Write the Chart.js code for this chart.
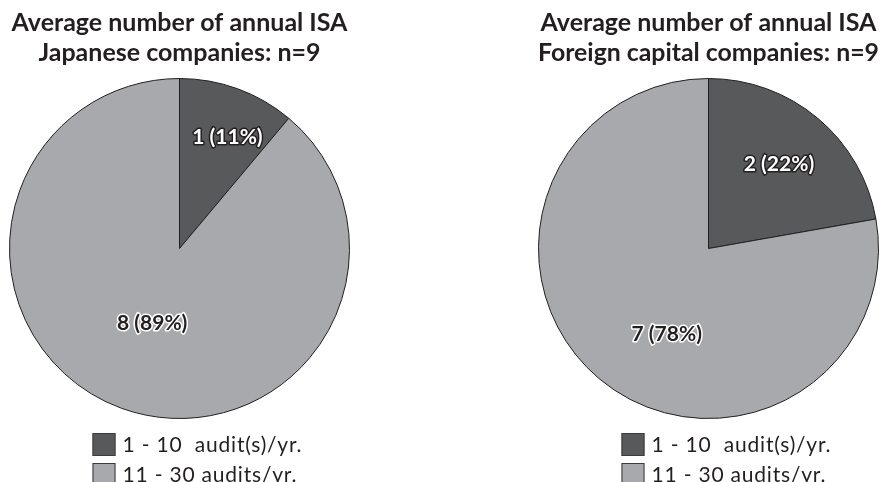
<!DOCTYPE html>
<html>
<head>
<meta charset="utf-8">
<script src="https://cdn.jsdelivr.net/npm/chart.js@4.4.1/dist/chart.umd.min.js"></script>
<style>
  body { margin: 0; background: #fff; width: 885px; height: 482px; overflow: hidden; position: relative; }
  canvas { position: absolute; top: 0; }
</style>
</head>
<body>
<canvas id="japanese" width="360" height="482" style="left:0"></canvas>
<canvas id="foreign" width="355" height="482" style="left:530px"></canvas>
<script>
// Data
var categories = ['1 - 10  audit(s)/yr.', '11 - 30 audits/yr.'];
var japaneseCounts = [1, 8];
var foreignCounts = [2, 7];
var japaneseTitle = ['Average number of annual ISA', 'Japanese companies: n=9'];
var foreignTitle = ['Average number of annual ISA', 'Foreign capital companies: n=9'];

var sliceColors = ['#58595b', '#a7a9ac'];
var inkColor = '#231f20';

// Count and percentage label on each slice
var sliceLabels = {
    id: 'sliceLabels',
    afterDatasetsDraw: function(chart, args, opts) {
        var ctx = chart.ctx;
        var data = chart.data.datasets[0].data;
        var total = data.reduce(function(a, b) { return a + b; }, 0);
        ctx.save();
        ctx.font = 'bold 21px Lato';
        ctx.textAlign = 'center';
        ctx.textBaseline = 'middle';
        ctx.lineJoin = 'round';
        chart.getDatasetMeta(0).data.forEach(function(arc, i) {
            var p = arc.getProps(['x', 'y', 'startAngle', 'endAngle', 'outerRadius'], true);
            var angle = (p.startAngle + p.endAngle) / 2 + opts.angleShift[i] * Math.PI / 180;
            var r = p.outerRadius * opts.radius[i];
            var x = p.x + Math.cos(angle) * r;
            var y = p.y + Math.sin(angle) * r;
            var text = data[i] + ' (' + Math.round(data[i] / total * 100) + '%)';
            ctx.lineWidth = 3;
            ctx.strokeStyle = opts.outline[i];
            ctx.strokeText(text, x, y);
            ctx.fillStyle = opts.fill[i];
            ctx.fillText(text, x, y);
        });
        ctx.restore();
    }
};

// Legend stacked under the pie
var stackedLegend = {
    id: 'stackedLegend',
    afterDraw: function(chart) {
        var ctx = chart.ctx;
        var cx = chart.getDatasetMeta(0).data[0].x;
        var top = chart.chartArea.bottom + 14;
        ctx.save();
        ctx.font = '21px Lato';
        ctx.letterSpacing = '0.8px';
        ctx.textBaseline = 'middle';
        chart.data.labels.forEach(function(label, i) {
            var x = cx - 87;
            var y = top + i * 30;
            ctx.fillStyle = chart.data.datasets[0].backgroundColor[i];
            ctx.fillRect(x, y, 23, 23);
            ctx.strokeStyle = '#3c3c3c';
            ctx.lineWidth = 1;
            ctx.strokeRect(x + 0.5, y + 0.5, 22, 22);
            ctx.fillStyle = inkColor;
            ctx.fillText(label, x + 30, y + 12);
        });
        ctx.restore();
    }
};

function makePie(id, counts, title, padding, labelOpts) {
    return new Chart(document.getElementById(id), {
        type: 'pie',
        data: {
            labels: categories,
            datasets: [{
                data: counts,
                backgroundColor: sliceColors,
                borderColor: inkColor,
                borderWidth: 1,
                hoverOffset: 0,
                offset: 0
            }]
        },
        options: {
            responsive: false,
            animation: false,
            events: [],
            layout: { padding: padding },
            plugins: {
                legend: { display: false },
                tooltip: { enabled: false },
                title: {
                    display: true,
                    text: title,
                    color: inkColor,
                    font: { family: 'Lato', size: 25, weight: 'bold', lineHeight: 1.2 },
                    padding: { top: 8, bottom: 10 }
                },
                sliceLabels: labelOpts
            }
        },
        plugins: [sliceLabels, stackedLegend]
    });
}

makePie('japanese', japaneseCounts, japaneseTitle,
    { left: 9, right: 10, bottom: 63 },
    { radius: [0.71, 0.47], angleShift: [3.4, 0], fill: ['#ffffff', inkColor], outline: [inkColor, '#ffffff'] });

makePie('foreign', foreignCounts, foreignTitle,
    { left: 8, right: 6, bottom: 63 },
    { radius: [0.645, 0.56], angleShift: [0, -14], fill: ['#ffffff', inkColor], outline: [inkColor, '#ffffff'] });
</script>
</body>
</html>
